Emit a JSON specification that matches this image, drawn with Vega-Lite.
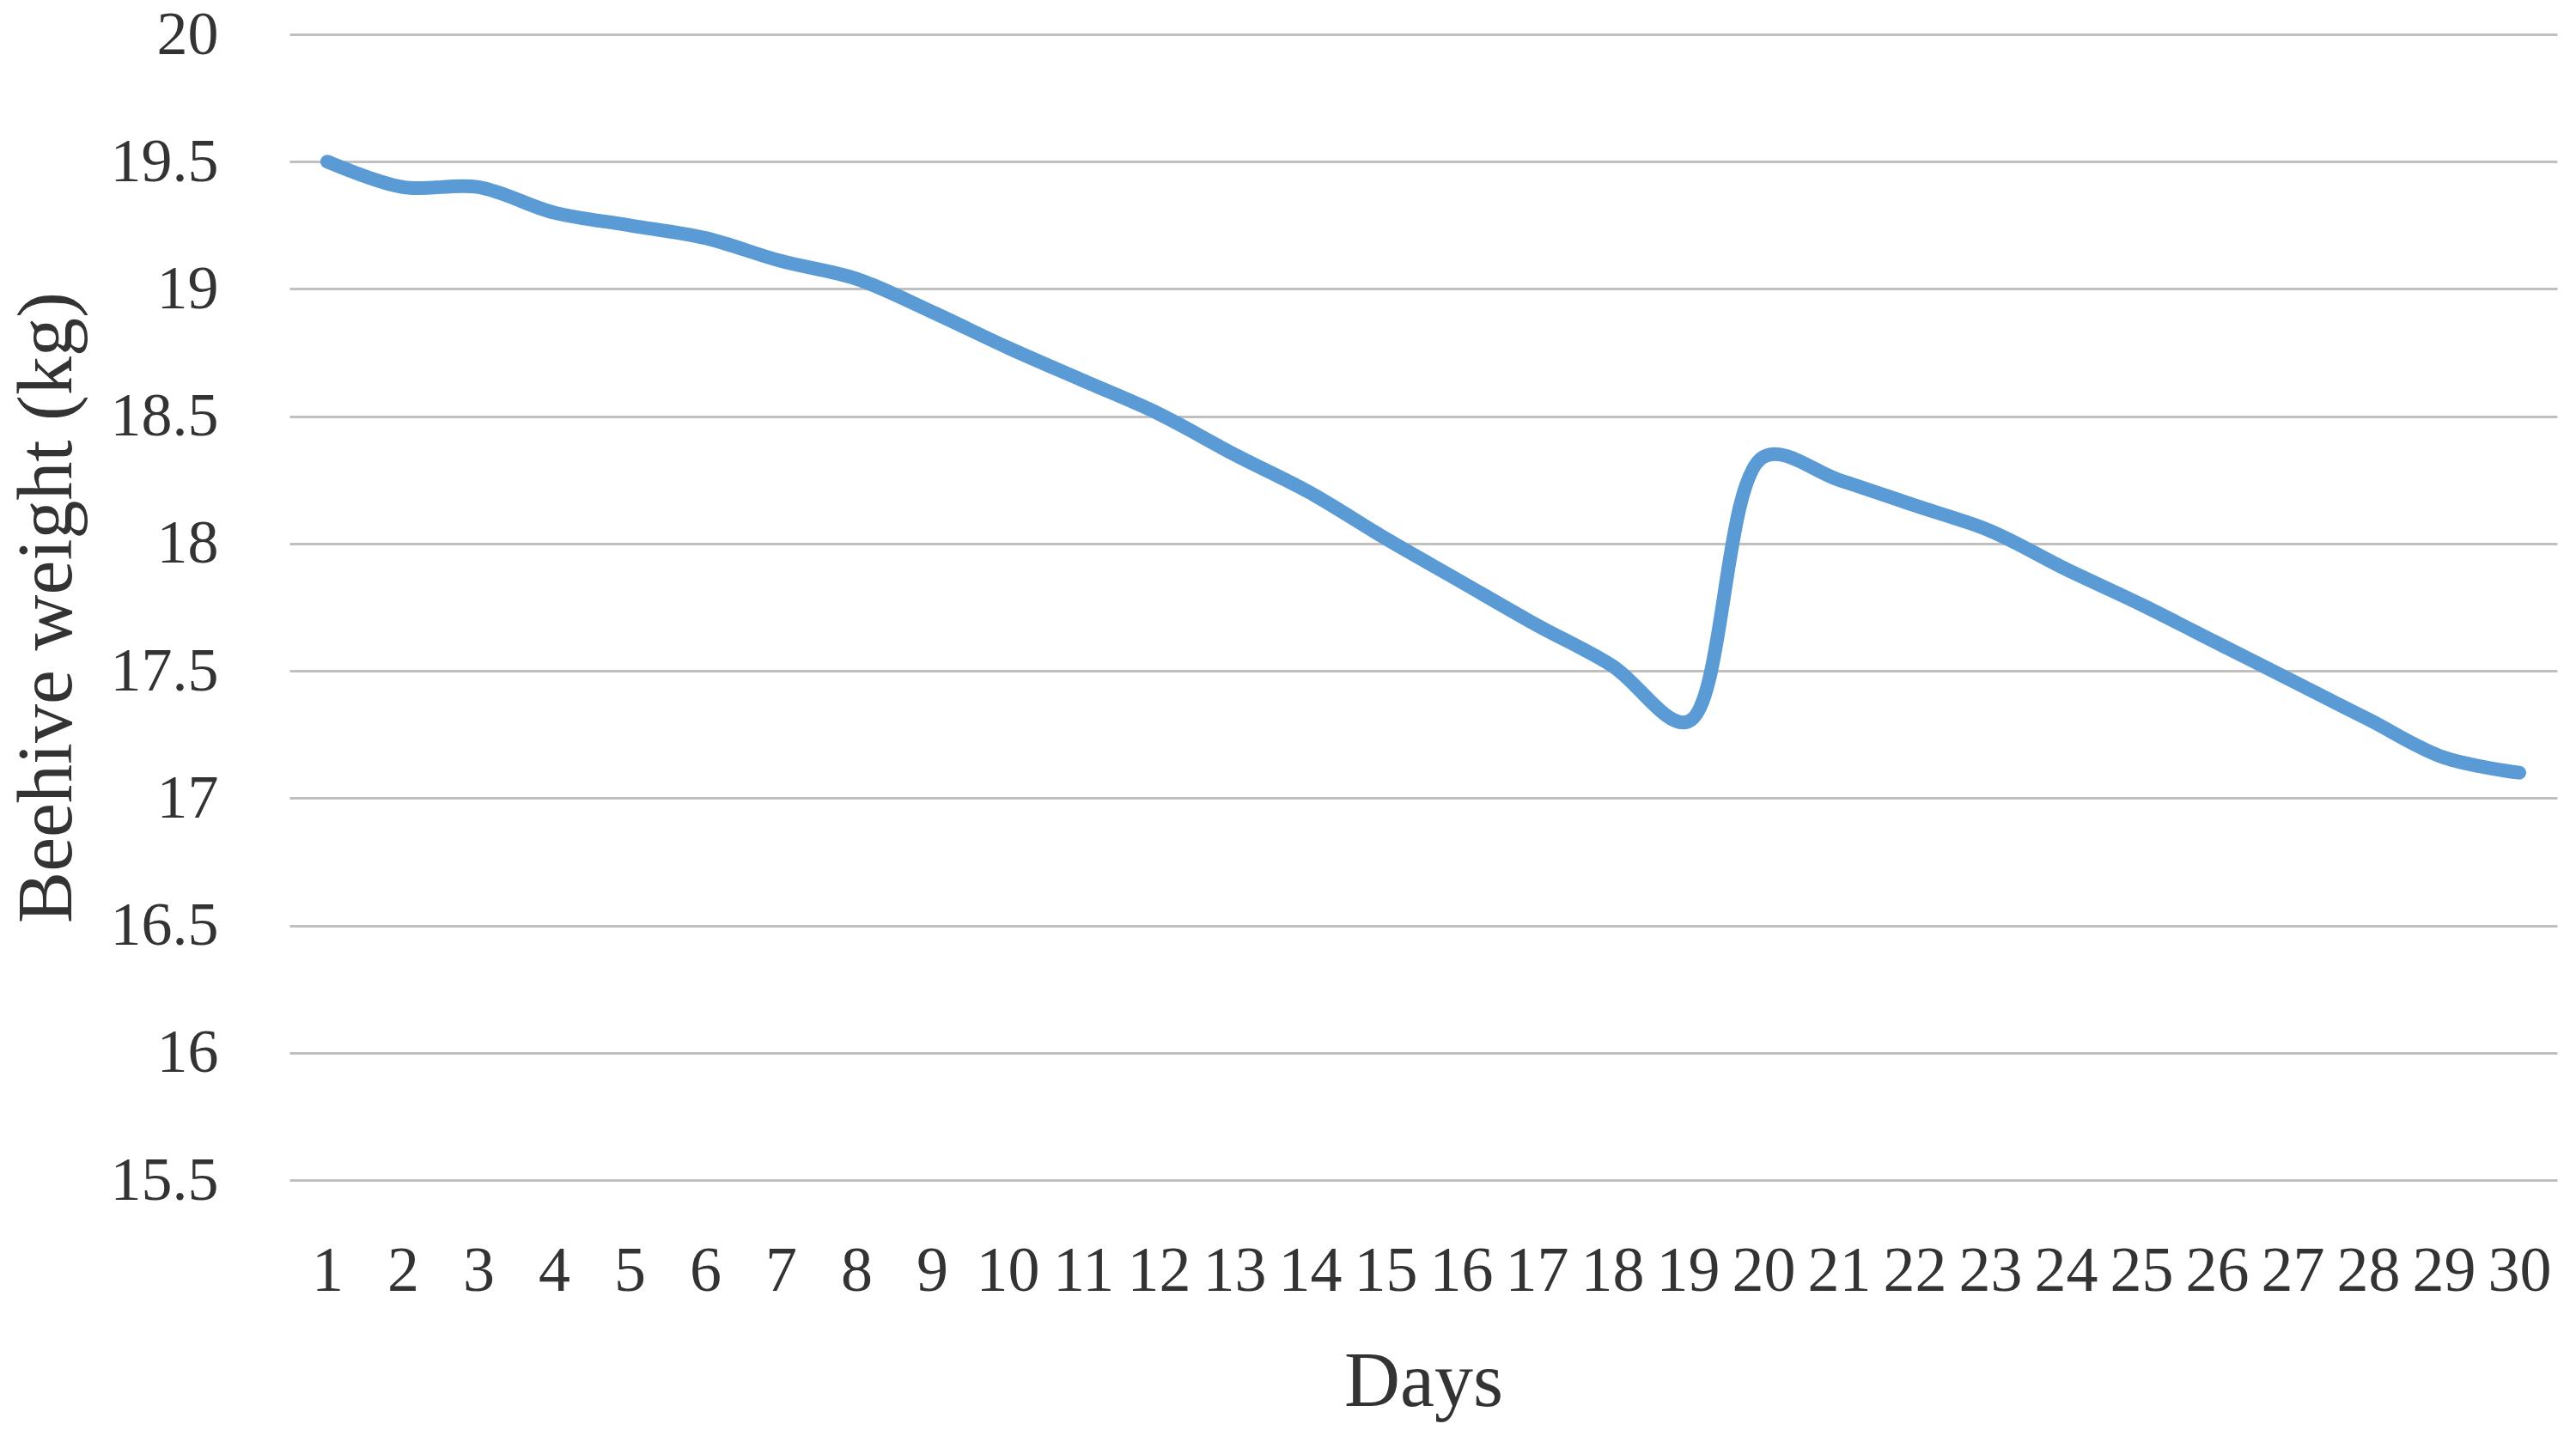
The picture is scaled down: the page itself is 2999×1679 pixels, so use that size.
{
  "$schema": "https://vega.github.io/schema/vega-lite/v6.json",
  "autosize": "none",
  "width": 2640,
  "height": 1334,
  "padding": {"left": 337, "top": 40, "right": 22, "bottom": 305},
  "background": "white",
  "config": {
    "view": {"stroke": null},
    "font": "Liberation Serif"
  },
  "data": {
    "values": [
      {"Day": 1, "Weight": 19.5},
      {"Day": 2, "Weight": 19.4},
      {"Day": 3, "Weight": 19.4},
      {"Day": 4, "Weight": 19.3},
      {"Day": 5, "Weight": 19.25},
      {"Day": 6, "Weight": 19.2},
      {"Day": 7, "Weight": 19.11},
      {"Day": 8, "Weight": 19.04},
      {"Day": 9, "Weight": 18.91},
      {"Day": 10, "Weight": 18.77},
      {"Day": 11, "Weight": 18.64},
      {"Day": 12, "Weight": 18.51},
      {"Day": 13, "Weight": 18.35},
      {"Day": 14, "Weight": 18.2},
      {"Day": 15, "Weight": 18.02},
      {"Day": 16, "Weight": 17.85},
      {"Day": 17, "Weight": 17.68},
      {"Day": 18, "Weight": 17.52},
      {"Day": 19, "Weight": 17.3},
      {"Day": 20, "Weight": 18.34},
      {"Day": 21, "Weight": 18.25},
      {"Day": 22, "Weight": 18.15},
      {"Day": 23, "Weight": 18.05},
      {"Day": 24, "Weight": 17.9},
      {"Day": 25, "Weight": 17.76},
      {"Day": 26, "Weight": 17.61},
      {"Day": 27, "Weight": 17.46},
      {"Day": 28, "Weight": 17.31},
      {"Day": 29, "Weight": 17.16},
      {"Day": 30, "Weight": 17.1}
    ]
  },
  "mark": {
    "type": "line",
    "color": "#5b9bd5",
    "strokeWidth": 16,
    "strokeCap": "round",
    "strokeJoin": "round",
    "interpolate": "catmull-rom"
  },
  "encoding": {
    "x": {
      "field": "Day",
      "type": "ordinal",
      "scale": {"type": "point", "padding": 0.5},
      "axis": {
        "title": "Days",
        "labelAngle": 0,
        "domain": false,
        "ticks": false,
        "tickSize": 0,
        "grid": false,
        "labelFont": "Liberation Serif",
        "labelFontSize": 74,
        "labelColor": "#333333",
        "labelPadding": 70,
        "labelBaseline": "top",
        "titleFont": "Liberation Serif",
        "titleFontSize": 90,
        "titleFontWeight": "normal",
        "titleColor": "#333333",
        "titlePadding": 48
      }
    },
    "y": {
      "field": "Weight",
      "type": "quantitative",
      "scale": {"domain": [15.5, 20], "zero": false, "nice": false},
      "axis": {
        "title": "Beehive weight (kg)",
        "values": [15.5, 16, 16.5, 17, 17.5, 18, 18.5, 19, 19.5, 20],
        "format": "~r",
        "domain": false,
        "ticks": false,
        "tickSize": 0,
        "grid": true,
        "gridColor": "#c0c0c0",
        "gridWidth": 3,
        "labelFont": "Liberation Serif",
        "labelFontSize": 72,
        "labelColor": "#333333",
        "labelPadding": 83,
        "titleFont": "Liberation Serif",
        "titleFontSize": 90,
        "titleFontWeight": "normal",
        "titleColor": "#333333",
        "titlePadding": 36
      }
    }
  }
}
